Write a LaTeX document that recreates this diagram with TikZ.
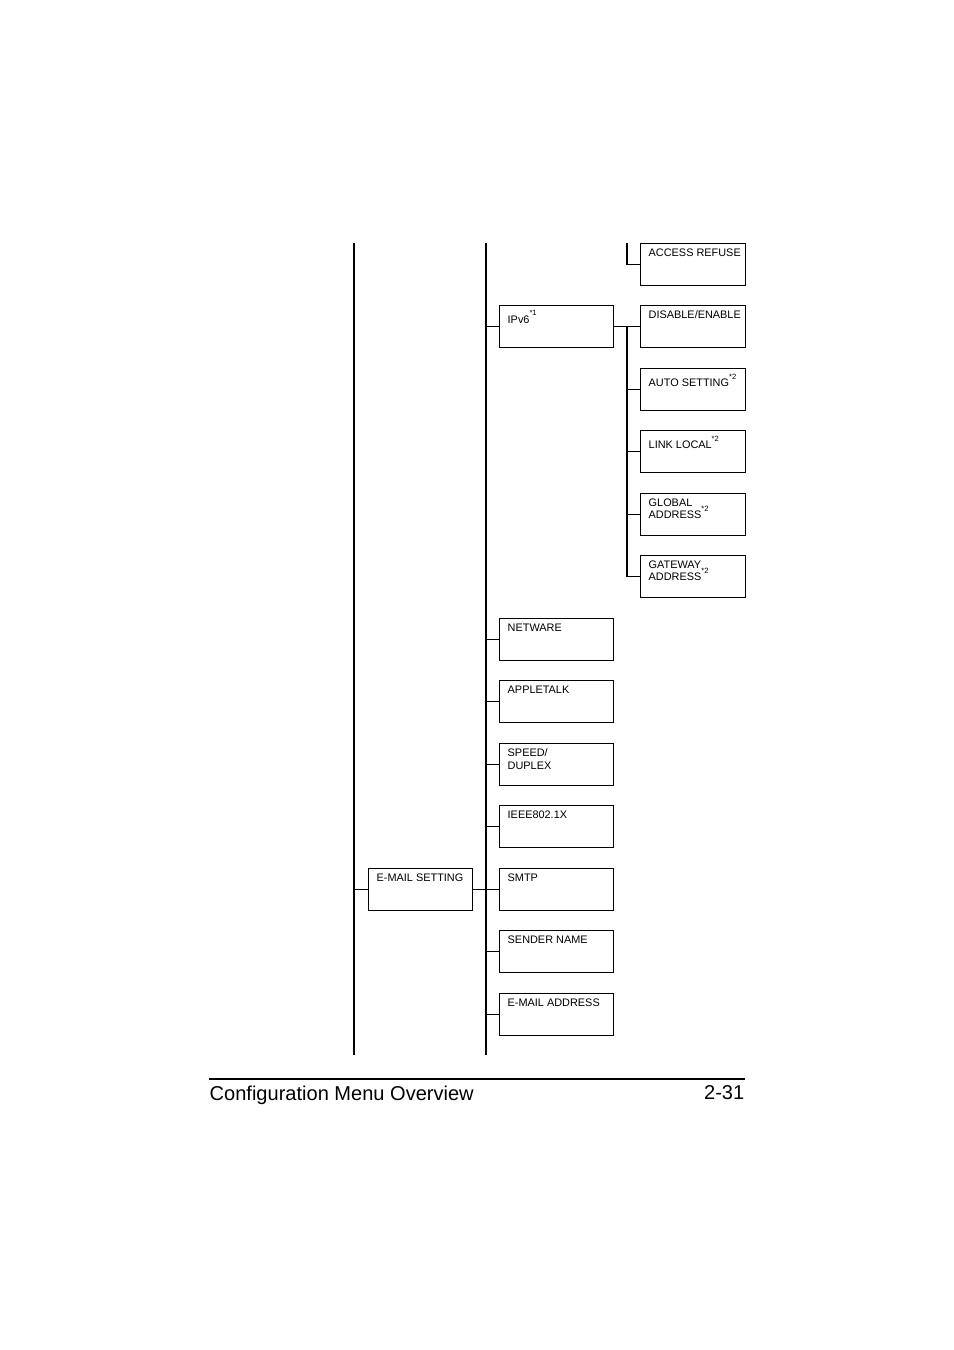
\documentclass[tikz,border=0pt]{standalone}
\usepackage{fontspec}
\setmainfont{Liberation Sans}
\begin{document}
\begin{tikzpicture}[x=0.01cm, y=-0.01cm,
        menubox/.style={draw, line width=0.35pt, inner sep=0pt, anchor=north west, minimum height=0.42cm},
        boxtext/.style={font=\fontsize{3.1}{3.6}\selectfont, anchor=north west, inner sep=0pt, align=left},
        tree/.style={line width=0.35pt},
        footer/.style={font=\fontsize{5.7}{6.5}\selectfont, inner sep=0pt}
    ]
    \useasboundingbox (0,0) rectangle (954,1350);

    % Spalten
    \coordinate (c1top) at (354,243);
    \coordinate (c1bot) at (354,1055);
    \coordinate (c2top) at (486,243);
    \coordinate (c2bot) at (486,1055);
    \coordinate (c3top) at (627,243);
    \coordinate (c3ip) at (627,326);
    \draw[tree] (c1top) -- (c1bot);
    \draw[tree] (c2top) -- (c2bot);

    % Boxen
    \newcommand{\menuitem}[5]{%
        \node[menubox, minimum width=#4*0.01cm] (#1) at (#2,#3) {};
        \node[boxtext] at ([xshift=0.08cm, yshift=-0.05cm]#1.north west) {#5};}

    \menuitem{refuse}{640}{243}{105}{ACCESS REFUSE}
    \menuitem{ipv6}{499}{305}{114}{IPv6\textsuperscript{*1}}
    \menuitem{disable}{640}{305}{105}{DISABLE/ENABLE}
    \menuitem{auto}{640}{368}{105}{AUTO SETTING\textsuperscript{*2}}
    \menuitem{linklocal}{640}{430}{105}{LINK LOCAL\textsuperscript{*2}}
    \menuitem{global}{640}{493}{105}{GLOBAL\\ADDRESS\textsuperscript{*2}}
    \menuitem{gateway}{640}{555}{105}{GATEWAY\\ADDRESS\textsuperscript{*2}}
    \menuitem{netware}{499}{618}{114}{NETWARE}
    \menuitem{appletalk}{499}{680}{114}{APPLETALK}
    \menuitem{speed}{499}{743}{114}{SPEED/\\DUPLEX}
    \menuitem{ieee}{499}{805}{114}{IEEE802.1X}
    \menuitem{email}{368}{868}{104}{E-MAIL SETTING}
    \menuitem{smtp}{499}{868}{114}{SMTP}
    \menuitem{sender}{499}{930}{114}{SENDER NAME}
    \menuitem{address}{499}{993}{114}{E-MAIL ADDRESS}

    % Verbindungen
    \draw[tree] (c3top) |- (refuse.west);
    \draw[tree] (ipv6.east) -- (disable.west);
    \draw[tree] (c3ip) |- (gateway.west);
    \foreach \n in {auto, linklocal, global}
        \draw[tree] (c3ip |- \n.west) -- (\n.west);
    \foreach \n in {ipv6, netware, appletalk, speed, ieee, smtp, sender, address}
        \draw[tree] (c2top |- \n.west) -- (\n.west);
    \draw[tree] (c1top |- email.west) -- (email.west);
    \draw[tree] (email.east) -- (smtp.west);

    % Fusszeile
    \coordinate (fl) at (209,1079);
    \coordinate (fr) at (745,1079);
    \draw[line width=0.3pt] (fl) -- (fr);
    \node[footer, anchor=north west] (title) at (209,1085) {Configuration Menu Overview};
    \node[footer, anchor=north east] (page) at (745,1085) {2-31};
\end{tikzpicture}
\end{document}
